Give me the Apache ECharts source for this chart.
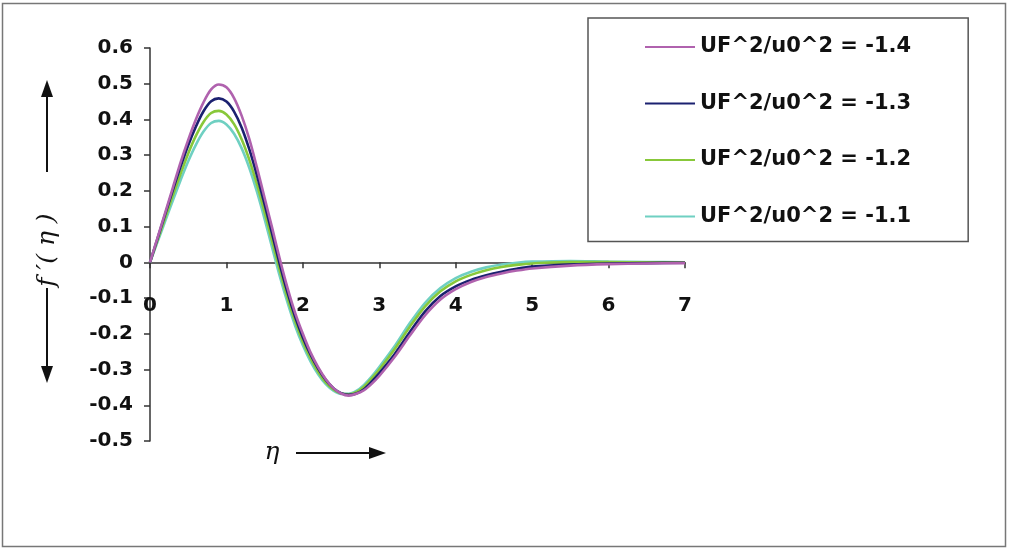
<!DOCTYPE html>
<html>
<head>
<meta charset="utf-8">
<script src="https://cdn.jsdelivr.net/npm/echarts@6/dist/echarts.min.js"></script>
<style>html,body{margin:0;padding:0;background:#fff}#c{width:1009px;height:550px}</style>
</head>
<body>
<div id="c"></div>
<script>
const eta = [0,0.1,0.2,0.3,0.4,0.5,0.6,0.7,0.8,0.9,1.0,1.1,1.2,1.3,1.4,1.5,1.6,1.7,1.8,1.9,2.0,2.1,2.2,2.3,2.4,2.5,2.6,2.7,2.8,2.9,3.0,3.2,3.4,3.6,3.8,4.0,4.2,4.4,4.6,4.8,5.0,5.5,6.0,6.5,7.0];
const seriesNames = ['UF^2/u0^2 = -1.4','UF^2/u0^2 = -1.3','UF^2/u0^2 = -1.2','UF^2/u0^2 = -1.1'];
const fp_14 = [0,0.07,0.14,0.21,0.28,0.343,0.4,0.448,0.484,0.498,0.49,0.46,0.41,0.345,0.265,0.18,0.095,0.008,-0.072,-0.142,-0.2,-0.252,-0.293,-0.327,-0.352,-0.367,-0.373,-0.368,-0.358,-0.34,-0.318,-0.265,-0.205,-0.148,-0.104,-0.075,-0.055,-0.041,-0.031,-0.023,-0.017,-0.009,-0.005,-0.003,-0.002];
const fp_13 = [0,0.068,0.136,0.203,0.268,0.328,0.38,0.423,0.451,0.459,0.45,0.422,0.377,0.316,0.243,0.162,0.078,-0.007,-0.085,-0.153,-0.21,-0.258,-0.297,-0.329,-0.352,-0.366,-0.371,-0.367,-0.355,-0.334,-0.31,-0.257,-0.195,-0.137,-0.094,-0.067,-0.049,-0.036,-0.026,-0.018,-0.012,-0.006,-0.003,-0.002,-0.001];
const fp_12 = [0,0.063,0.126,0.188,0.248,0.305,0.354,0.393,0.418,0.424,0.414,0.387,0.344,0.287,0.218,0.14,0.058,-0.024,-0.1,-0.166,-0.222,-0.268,-0.306,-0.336,-0.356,-0.367,-0.369,-0.363,-0.348,-0.325,-0.3,-0.243,-0.18,-0.123,-0.081,-0.053,-0.035,-0.022,-0.013,-0.007,-0.003,0.001,0.001,0,0];
const fp_11 = [0,0.058,0.116,0.174,0.23,0.283,0.329,0.366,0.39,0.396,0.386,0.36,0.319,0.264,0.197,0.121,0.04,-0.04,-0.113,-0.178,-0.232,-0.277,-0.313,-0.341,-0.359,-0.368,-0.368,-0.36,-0.343,-0.32,-0.293,-0.235,-0.17,-0.113,-0.072,-0.044,-0.026,-0.014,-0.006,-0.001,0.002,0.004,0.002,0.001,0];
const colors = ['#b062ae','#1b2170','#88c83a','#6fd0c2'];
const allValues = [fp_14, fp_13, fp_12, fp_11];
const yMin = -0.5, yMax = 0.6;

const chart = echarts.init(document.getElementById('c'), null, {renderer:'canvas'});
const tickFont = {fontFamily:'DejaVu Sans', fontWeight:'bold', fontSize:20, color:'#111'};
const axisCol = '#333';
const gridTop = 48, gridBottom = 109, H = 550;
const plotH = H - gridTop - gridBottom;
// move the x axis (line + labels) up to y = 0
const zeroOffset = -plotH * (0 - yMin) / (yMax - yMin);

const series = allValues.map((vals, i) => ({
  name: seriesNames[i],
  type: 'line',
  data: eta.map((x, k) => [x, vals[k]]),
  smooth: 0.3,
  symbol: 'none',
  lineStyle: {color: colors[i], width: 2.6},
  itemStyle: {color: colors[i]},
  z: 10 - i
}));

chart.setOption({
  backgroundColor: '#fff',
  animation: false,
  grid: {left: 150, right: 324, top: gridTop, bottom: gridBottom},
  legend: {
    orient: 'vertical',
    left: 588, top: 18,
    width: 266,
    padding: [17, 57, 13, 57],
    itemGap: 32.5,
    itemWidth: 50, itemHeight: 14,
    borderColor: '#555', borderWidth: 1.5,
    icon: 'path://M0,6 L50,6 L50,8 L0,8 Z',
    textStyle: {fontFamily:'DejaVu Sans', fontWeight:'bold', fontSize:21, color:'#111', lineHeight:24},
    data: seriesNames
  },
  xAxis: {
    type: 'value', min: 0, max: 7, interval: 1,
    offset: zeroOffset,
    axisLine: {onZero: false, lineStyle: {color: axisCol, width: 1.5}},
    axisTick: {show: true, inside: false, length: 6, lineStyle: {color: axisCol, width: 1.5}},
    axisLabel: Object.assign({margin: 33}, tickFont),
    splitLine: {show: false}
  },
  yAxis: {
    type: 'value', min: yMin, max: yMax, interval: 0.1,
    axisLine: {show: true, onZero: false, lineStyle: {color: axisCol, width: 1.5}},
    axisTick: {show: true, inside: false, length: 6, lineStyle: {color: axisCol, width: 1.5}},
    axisLabel: Object.assign({margin: 17, formatter: v => { const r = Math.round(v*10)/10; return r === 0 ? '0' : r.toFixed(1); }}, tickFont),
    splitLine: {show: false}
  },
  graphic: [
    {type:'rect', shape:{x:2.5, y:3.5, width:1003, height:543}, style:{fill:'none', stroke:'#777', lineWidth:1.5}, silent:true},
    {type:'line', shape:{x1:47, y1:172, x2:47, y2:96}, style:{stroke:'#111', lineWidth:2}},
    {type:'polygon', shape:{points:[[47,80],[41,97],[53,97]]}, style:{fill:'#111'}},
    {type:'text', x:47, y:250, rotation: Math.PI/2, style:{text:'f \u2032( \u03B7 )', fontFamily:'DejaVu Serif', fontStyle:'italic', fontSize:25, fill:'#111', align:'center', verticalAlign:'middle'}},
    {type:'line', shape:{x1:47, y1:288, x2:47, y2:366}, style:{stroke:'#111', lineWidth:2}},
    {type:'polygon', shape:{points:[[47,383],[41,366],[53,366]]}, style:{fill:'#111'}},
    {type:'text', x:272, y:452, style:{text:'\u03B7', fontFamily:'DejaVu Serif', fontStyle:'italic', fontSize:25, fill:'#111', align:'center', verticalAlign:'middle'}},
    {type:'line', shape:{x1:296, y1:453, x2:370, y2:453}, style:{stroke:'#111', lineWidth:2}},
    {type:'polygon', shape:{points:[[386,453],[369,447],[369,459]]}, style:{fill:'#111'}}
  ],
  series: series
});
</script>
</body>
</html>
